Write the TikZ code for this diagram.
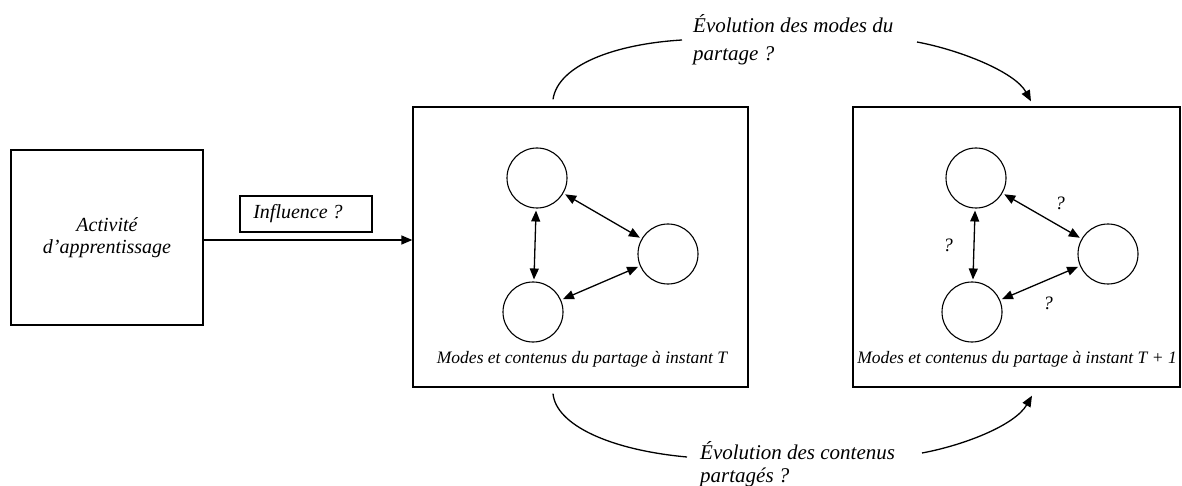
\documentclass[tikz,border=0pt]{standalone}
\usepackage{fontspec}
\setmainfont{Liberation Serif}
\usetikzlibrary{arrows.meta}
\begin{document}
\begin{tikzpicture}[x=1pt,y=-1pt,
  frame/.style={draw, line width=1.3pt, inner sep=0pt},
  ring/.style={circle, draw, line width=1.1pt, minimum size=60pt, inner sep=0pt},
  tip/.style={-{Triangle[length=11pt,width=9pt]}},
  link/.style={{Triangle[length=11pt,width=9pt]}-{Triangle[length=11pt,width=9pt]}, line width=1.3pt, shorten <=2pt, shorten >=2pt},
  curve/.style={tip, line width=1.3pt},
  lbl/.style={font=\itshape\fontsize{21}{25}\selectfont, inner sep=0pt, anchor=base west},
  captext/.style={font=\itshape\fontsize{17.5}{20}\selectfont, inner sep=0pt, anchor=base},
  qm/.style={font=\itshape\fontsize{19}{22}\selectfont, inner sep=0pt}]
\useasboundingbox[fill=white] (0,0) rectangle (1182,486);

% left box
\node[frame, minimum width=192pt, minimum height=175pt, align=center,
      font=\itshape\fontsize{20}{22}\selectfont] (A) at (107,237.5) {Activité\\d’apprentissage};
\node[frame, minimum width=132pt, minimum height=36pt,
      font=\itshape\fontsize{20}{24}\selectfont] (inf) at (306,214) {Influence ?\hspace*{16pt}};

% state boxes
\node[frame, minimum width=335pt, minimum height=280pt] (T) at (580.5,247) {};
\node[frame, minimum width=327pt, minimum height=280pt] (U) at (1016.5,247) {};

\draw[tip, line width=1.5pt] ([yshift=-2.5pt]A.east) -- ([yshift=-2.5pt]A.east -| T.west);

% circles T
\node[ring] (t1) at (537,178) {};
\node[ring] (t2) at (668,254) {};
\node[ring] (t3) at (533,312) {};
\draw[link] (t1) -- (t3);
\draw[link] (t1) -- (t2);
\draw[link] (t3) -- (t2);
\node[captext] (capT) at (582,363) {Modes et contenus du partage à instant T};

% circles T+1
\node[ring] (u1) at (976,178) {};
\node[ring] (u2) at (1108,254) {};
\node[ring] (u3) at (972,312) {};
\draw[link] (u1) -- (u3);
\draw[link] (u1) -- (u2);
\draw[link] (u3) -- (u2);
\node[qm] (q1) at (1060,203) {?};
\node[qm] (q2) at (948,245) {?};
\node[qm] (q3) at (1048,303) {?};
\node[captext] (capU) at (1017,363) {Modes et contenus du partage à instant T + 1};

% labels
\node[lbl] (top1) at (693,33) {Évolution des modes du};
\node[lbl] (top2) at (693,61) {partage ?};
\node[lbl] (bot1) at (700,459) {Évolution des contenus};
\node[lbl] (bot2) at (700,482) {partagés ?};

\coordinate (ta) at (682,40);
\coordinate (tb) at (917,42);
\coordinate (ba) at (687,457);
\coordinate (bb) at (922,453);

\draw[line width=1.3pt] ([xshift=-27.5pt,yshift=7pt]T.north) .. controls (558,65) and (615,44) .. (ta);
\draw[curve] (tb) .. controls (960,50) and (1015,72) .. ([xshift=14.5pt,yshift=5pt]U.north);
\draw[line width=1.3pt] ([xshift=-27.5pt,yshift=-6pt]T.south) .. controls (556,425) and (610,450) .. (ba);
\draw[curve] (bb) .. controls (965,445) and (1015,425) .. ([xshift=15.5pt,yshift=-8pt]U.south);
\end{tikzpicture}
\end{document}
